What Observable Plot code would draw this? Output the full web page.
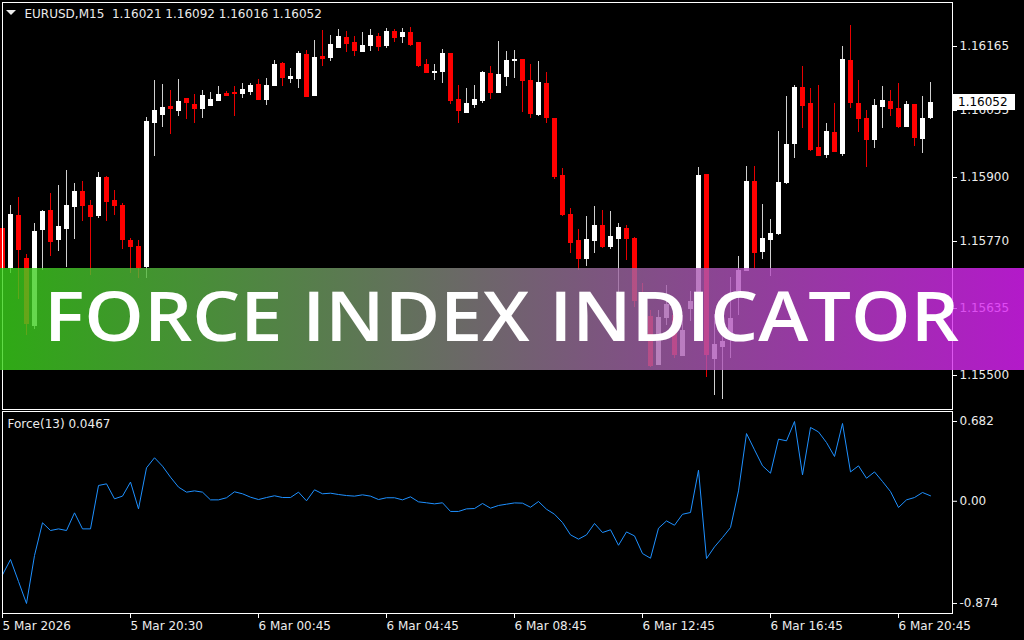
<!DOCTYPE html>
<html>
<head>
<meta charset="utf-8">
<script src="https://cdn.jsdelivr.net/npm/d3@7"></script>
<script src="https://cdn.jsdelivr.net/npm/@observablehq/plot@0.6"></script>
<style>
html,body{margin:0;padding:0;background:#000;}
#wrap{position:relative;width:1024px;height:640px;overflow:hidden;background:#000;}
#main,#force{position:absolute;left:0;}
#main{top:0;}
#force{top:410px;}
#banner{position:absolute;left:0;top:268px;}
svg text{white-space:pre;}
</style>
</head>
<body>
<div id="wrap">
  <div id="main"></div>
  <div id="force"></div>
  <svg id="banner" width="1024" height="102" viewBox="0 0 1024 102">
    <defs>
      <linearGradient id="bannerGrad" x1="0" x2="1" y1="0" y2="0">
        <stop offset="0" stop-color="rgb(58,212,26)"/>
        <stop offset="1" stop-color="rgb(224,32,252)"/>
      </linearGradient>
    </defs>
    <rect x="0" y="0" width="1024" height="102" fill="url(#bannerGrad)" opacity="0.8"/>
    <text x="44" y="73" textLength="915" lengthAdjust="spacingAndGlyphs" fill="#ffffff"
      font-family="'Open Sans', 'Noto Sans', sans-serif" font-weight="600" font-size="68">FORCE INDEX INDICATOR</text>
  </svg>
</div>
<script>
const symbolName = "EURUSD,M15";
const indicatorName = "Force(13)";

const opens = [1.15796,1.15718,1.15823,1.15736,1.15601,1.15794,1.15834,1.15774,1.15797,1.15842,
1.15871,1.15843,1.15823,1.15900,1.15853,1.15843,1.15772,1.15760,1.15720,1.16011,
1.16027,1.16044,1.16035,1.16059,1.16048,1.16039,1.16046,1.16055,1.16069,1.16072,
1.16069,1.16074,1.16087,1.16057,1.16085,1.16130,1.16100,1.16100,1.16148,1.16065,
1.16144,1.16143,1.16163,1.16182,1.16172,1.16155,1.16166,1.16184,1.16166,1.16194,
1.16185,1.16192,1.16172,1.16128,1.16112,1.16114,1.16151,1.16057,1.16031,1.16047,
1.16055,1.16110,1.16072,1.16103,1.16136,1.16138,1.16095,1.16028,1.16089,1.16019,
1.15904,1.15826,1.15772,1.15736,1.15772,1.15803,1.15760,1.15777,1.15796,1.15777,
1.15651,1.15619,1.15523,1.15617,1.15621,1.15540,1.15635,1.15648,1.15906,1.15535,
1.15558,1.15574,1.15671,1.15713,1.15891,1.15751,1.15774,1.15787,1.15889,1.15969,
1.16081,1.16050,1.15961,1.15946,1.15991,1.15949,1.16136,1.16050,1.16019,1.15976,
1.16044,1.16054,1.16039,1.16003,1.16047,1.15978,1.16021];

const highs = [1.15819,1.15843,1.15860,1.15744,1.15807,1.15834,1.15868,1.15883,1.15914,1.15888,
1.15891,1.15853,1.15910,1.15902,1.15873,1.15848,1.15776,1.15772,1.16021,1.16095,
1.16087,1.16075,1.16097,1.16060,1.16067,1.16075,1.16071,1.16083,1.16073,1.16083,
1.16090,1.16090,1.16097,1.16100,1.16136,1.16132,1.16119,1.16154,1.16156,1.16176,
1.16196,1.16186,1.16198,1.16194,1.16185,1.16192,1.16198,1.16190,1.16200,1.16198,
1.16200,1.16202,1.16172,1.16139,1.16127,1.16159,1.16151,1.16085,1.16079,1.16085,
1.16114,1.16124,1.16174,1.16154,1.16156,1.16138,1.16128,1.16134,1.16111,1.16019,
1.15917,1.15838,1.15794,1.15821,1.15841,1.15833,1.15831,1.15806,1.15803,1.15779,
1.15685,1.15631,1.15632,1.15681,1.15651,1.15621,1.15669,1.15920,1.15906,1.15623,
1.15625,1.15698,1.15740,1.15922,1.15922,1.15845,1.15814,1.15992,1.16063,1.16085,
1.16124,1.16080,1.16085,1.16008,1.16050,1.16164,1.16207,1.16095,1.16035,1.16057,
1.16083,1.16075,1.16090,1.16054,1.16047,1.16063,1.16092];

const lows = [1.15685,1.15705,1.15654,1.15580,1.15592,1.15712,1.15740,1.15751,1.15718,1.15774,
1.15811,1.15702,1.15818,1.15811,1.15823,1.15755,1.15705,1.15695,1.15695,1.15943,
1.16001,1.15987,1.16023,1.16017,1.16009,1.16019,1.16045,1.16054,1.16065,1.16023,
1.16060,1.16065,1.16056,1.16046,1.16083,1.16084,1.16090,1.16080,1.16062,1.16065,
1.16124,1.16134,1.16163,1.16153,1.16145,1.16155,1.16155,1.16154,1.16161,1.16173,
1.16170,1.16165,1.16122,1.16110,1.16095,1.16090,1.16048,1.16009,1.16029,1.16040,
1.16050,1.16057,1.16069,1.16083,1.16100,1.16031,1.16018,1.16023,1.16008,1.15895,
1.15821,1.15747,1.15712,1.15720,1.15747,1.15757,1.15755,1.15658,1.15733,1.15638,
1.15584,1.15516,1.15520,1.15601,1.15535,1.15538,1.15609,1.15641,1.15496,1.15459,
1.15452,1.15534,1.15621,1.15712,1.15716,1.15734,1.15700,1.15782,1.15885,1.15938,
1.15999,1.15952,1.15944,1.15938,1.15951,1.15943,1.16039,1.15991,1.15920,1.15959,
1.15999,1.16023,1.15999,1.16003,1.15963,1.15949,1.16016];

const closes = [1.15718,1.15825,1.15755,1.15604,1.15791,1.15831,1.15771,1.15801,1.15843,1.15871,
1.15843,1.15821,1.15900,1.15851,1.15843,1.15774,1.15761,1.15718,1.16013,1.16035,
1.16041,1.16039,1.16053,1.16052,1.16039,1.16065,1.16057,1.16067,1.16065,1.16070,
1.16077,1.16085,1.16057,1.16085,1.16128,1.16102,1.16103,1.16151,1.16064,1.16143,
1.16140,1.16168,1.16184,1.16171,1.16156,1.16166,1.16186,1.16164,1.16194,1.16183,
1.16192,1.16168,1.16126,1.16112,1.16114,1.16151,1.16056,1.16035,1.16050,1.16057,
1.16112,1.16072,1.16108,1.16136,1.16139,1.16095,1.16029,1.16092,1.16021,1.15902,
1.15826,1.15769,1.15736,1.15774,1.15803,1.15761,1.15780,1.15798,1.15776,1.15651,
1.15621,1.15520,1.15617,1.15644,1.15542,1.15590,1.15649,1.15904,1.15543,1.15562,
1.15569,1.15615,1.15713,1.15891,1.15749,1.15776,1.15786,1.15890,1.15966,1.16082,
1.16045,1.15956,1.15944,1.15992,1.15952,1.16138,1.16052,1.16018,1.15976,1.16045,
1.16055,1.16039,1.16003,1.16047,1.15980,1.16019,1.16052];

const forceValues = [-0.629,-0.498,-0.686,-0.874,-0.464,-0.184,-0.250,-0.236,-0.250,-0.099,
-0.236,-0.236,0.135,0.149,0.021,0.044,0.164,-0.065,0.286,0.372,
0.300,0.206,0.121,0.078,0.089,0.078,0.012,0.012,0.030,0.081,
0.064,0.035,0.015,0.032,0.047,0.032,0.032,0.078,0.004,0.098,
0.064,0.069,0.058,0.049,0.044,0.055,0.044,0.015,0.030,0.030,
0.012,0.038,-0.005,-0.013,-0.022,-0.013,-0.087,-0.087,-0.065,-0.062,
-0.019,-0.059,-0.036,-0.025,-0.014,-0.016,-0.051,-0.002,-0.068,-0.111,
-0.182,-0.287,-0.324,-0.287,-0.190,-0.267,-0.244,-0.376,-0.262,-0.296,
-0.447,-0.487,-0.230,-0.168,-0.205,-0.111,-0.096,0.266,-0.490,-0.390,
-0.310,-0.225,0.089,0.579,0.440,0.303,0.240,0.531,0.517,0.682,
0.226,0.631,0.593,0.502,0.383,0.665,0.251,0.303,0.197,0.251,
0.169,0.083,-0.053,0.012,0.032,0.075,0.0467];

const priceTicks = [1.16165, 1.16035, 1.15900, 1.15770, 1.15635, 1.15500];
const forceTicks = [0.682, 0, -0.874];
const forceTickLabels = ["0.682", "0.00", "-0.874"];
const timeTicks = [0, 16, 32, 48, 64, 80, 96, 112];
const timeTickLabels = ["5 Mar 2026", "5 Mar 20:30", "6 Mar 00:45", "6 Mar 04:45",
  "6 Mar 08:45", "6 Mar 12:45", "6 Mar 16:45", "6 Mar 20:45"];

const bars = opens.map((o, i) => ({
  i, open: o, high: highs[i], low: lows[i], close: closes[i], force: forceValues[i]
}));
const last = bars[bars.length - 1];

const bodyColor = d => d.close >= d.open ? "#ffffff" : "#ff0000";
const wickColor = d => d.close >= d.open ? "#d0d0d0" : "#e80000";
const textColor = "#ececec";
const baseStyle = {
  background: "#000",
  color: textColor,
  fontFamily: "'DejaVu Sans', sans-serif",
  fontSize: "12px",
  overflow: "visible"
};
const xOpts = {type: "linear", domain: [0, 118.75], round: true, axis: null};

const header = `${symbolName}  ${last.open.toFixed(5)} ${last.high.toFixed(5)} ${last.low.toFixed(5)} ${last.close.toFixed(5)}`;

const mainPlot = Plot.plot({
  width: 1024, height: 410,
  marginLeft: 2, marginRight: 72, marginTop: 2, marginBottom: 1,
  x: xOpts,
  y: {domain: [1.154313, 1.162532], round: true, axis: null},
  style: baseStyle,
  marks: [
    Plot.ruleX(bars, {x: "i", y1: "low", y2: "high", stroke: wickColor, shapeRendering: "crispEdges"}),
    Plot.rect(bars, {x1: d => d.i - 0.25, x2: d => d.i + 0.25, y1: "open", y2: "close",
      fill: bodyColor, stroke: bodyColor, strokeWidth: 1, shapeRendering: "crispEdges"}),
    Plot.frame({stroke: "#ffffff"}),
    Plot.axisY(priceTicks, {anchor: "right", tickSize: 4, tickPadding: 3, label: null,
      tickFormat: d => d.toFixed(5), stroke: "#ffffff", fill: textColor}),
    Plot.text([header], {text: d => d, frameAnchor: "top-left", textAnchor: "start",
      lineAnchor: "middle", dx: 22, dy: 12, fill: textColor})
  ]
});
document.getElementById("main").appendChild(mainPlot);

// collapse triangle and current-price label (placed with the plot's own y scale)
{
  const svg = d3.select(mainPlot);
  svg.append("path").attr("d", "M6,10 L16,10 L11,15 Z").attr("fill", textColor);
  const yy = mainPlot.scale("y").apply(last.close);
  const g = svg.append("g");
  g.append("rect").attr("x", 953).attr("y", yy - 8).attr("width", 62).attr("height", 16).attr("fill", "#ffffff");
  g.append("text").attr("x", 958).attr("y", yy).attr("dy", "0.35em").attr("fill", "#000")
    .attr("text-anchor", "start")
    .attr("font-family", "'DejaVu Sans', sans-serif").attr("font-size", 12)
    .text(last.close.toFixed(5));
}

const forcePlot = Plot.plot({
  width: 1024, height: 230,
  marginLeft: 2, marginRight: 72, marginTop: 1, marginBottom: 27,
  x: xOpts,
  y: {domain: [-0.9595, 0.7675], axis: null},
  style: baseStyle,
  marks: [
    Plot.line(bars, {x: "i", y: "force", stroke: "#1e90ff", strokeWidth: 1}),
    Plot.frame({stroke: "#ffffff"}),
    Plot.axisY(forceTicks, {anchor: "right", tickSize: 4, tickPadding: 3, label: null,
      tickFormat: d => forceTickLabels[forceTicks.indexOf(d)], stroke: "#ffffff", fill: textColor}),
    Plot.axisX(timeTicks, {anchor: "bottom", tickSize: 5, tickPadding: 3, label: null,
      tickFormat: d => timeTickLabels[timeTicks.indexOf(d)], textAnchor: "start",
      stroke: "#ffffff", fill: textColor}),
    Plot.text([`${indicatorName} ${last.force}`], {text: d => d, frameAnchor: "top-left",
      textAnchor: "start", lineAnchor: "middle", dx: 5, dy: 13, fill: textColor})
  ]
});
document.getElementById("force").appendChild(forcePlot);
</script>
</body>
</html>
